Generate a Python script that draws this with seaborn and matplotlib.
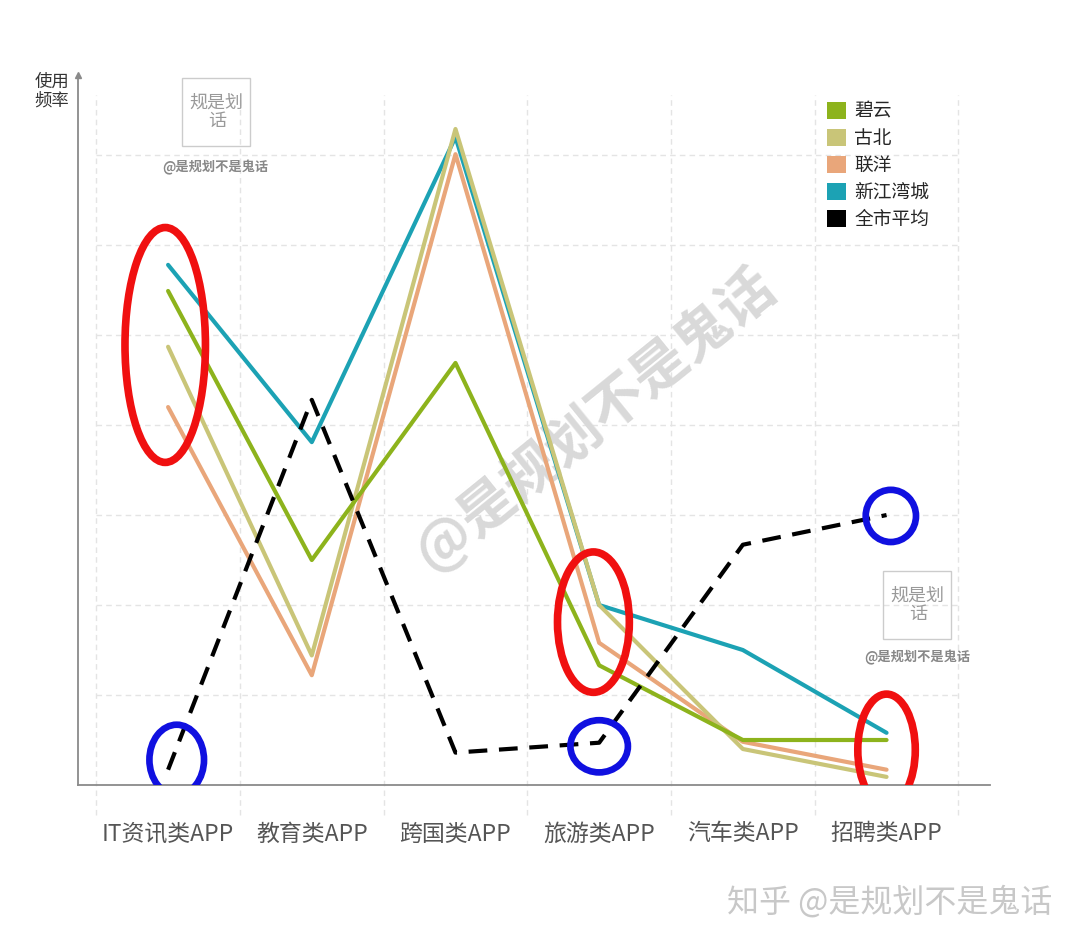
import pandas as pd
import matplotlib
matplotlib.use("Agg")
import matplotlib.pyplot as plt
import seaborn as sns
from matplotlib.patches import Ellipse, Patch, Rectangle

# 数据
categories = ["IT资讯类APP", "教育类APP", "跨国类APP", "旅游类APP", "汽车类APP", "招聘类APP"]
biyun = [5.49, 2.50, 4.69, 1.33, 0.50, 0.50]
gubei = [4.87, 1.44, 7.29, 2.00, 0.40, 0.09]
lianyang = [4.20, 1.22, 7.01, 1.58, 0.48, 0.17]
xinjiangwan = [5.78, 3.81, 7.20, 2.00, 1.50, 0.58]
city_avg = [0.17, 4.28, 0.36, 0.47, 2.67, 3.00]

series_names = ["碧云", "古北", "联洋", "新江湾城", "全市平均"]
series_values = [biyun, gubei, lianyang, xinjiangwan, city_avg]
colors = ["#8db31c", "#c9c578", "#e9a67a", "#1ca2b4", "#000000"]

# 标注圈 (类别序号, 数值, 宽, 高)
red_marks = [(-0.02, 4.89, 0.56, 2.61), (2.96, 1.81, 0.50, 1.56), (5.0, 0.39, 0.40, 1.24)]
blue_marks = [(0.06, 0.28, 0.38, 0.78), (3.0, 0.43, 0.40, 0.58), (5.03, 2.99, 0.35, 0.58)]

df = pd.DataFrame({
    "类别": categories * len(series_names),
    "频率": sum(series_values, []),
    "区域": [n for n in series_names for _ in categories],
})

sns.set_style("white")
plt.rcParams["font.family"] = ["Noto Sans CJK SC", "DejaVu Sans"]

fig = plt.figure(figsize=(10.8, 9.46), dpi=100)
ax = fig.add_axes([78 / 1080, 1 - 785 / 946, 912 / 1080, 710 / 946])

# 网格
grid_kw = dict(color="#e4e4e4", linestyles=(0, (4, 3)), linewidth=1.0, zorder=0, clip_on=False)
ax.hlines(range(1, 8), -0.5, 5.5, **grid_kw)
ax.vlines([i - 0.5 for i in range(7)], -0.33, 7.67, **grid_kw)

palette = dict(zip(series_names, colors))
draw_order = ["新江湾城", "联洋", "古北", "碧云", "全市平均"]
for name in draw_order:
    sub = df[df["区域"] == name]
    if name == "全市平均":
        sns.lineplot(data=sub, x="类别", y="频率", color=palette[name], ax=ax,
                     linewidth=3, sort=False, zorder=5)
        ax.lines[-1].set_dashes((4.5, 2.8))
    else:
        sns.lineplot(data=sub, x="类别", y="频率", color=palette[name], ax=ax,
                     linewidth=3, sort=False, zorder=4)

for x, y, w, h in red_marks:
    ax.add_patch(Ellipse((x, y), w, h, fill=False, edgecolor="#f01010", linewidth=5.5, zorder=6))
for x, y, w, h in blue_marks:
    ax.add_patch(Ellipse((x, y), w, h, fill=False, edgecolor="#1010e0", linewidth=4.8, zorder=6))

ax.set_xlim(-0.627, 5.72)
ax.set_ylim(0, 7.89)
ax.set_xlabel("")
ax.set_ylabel("")
ax.set_yticks([])
ax.set_xticks(range(len(categories)))
ax.set_xticklabels(categories, fontsize=16.5, color="#555555")
ax.tick_params(axis="x", length=0, pad=27)
for s in ["top", "right"]:
    ax.spines[s].set_visible(False)
for s in ["left", "bottom"]:
    ax.spines[s].set_color("#8a8a8a")
    ax.spines[s].set_linewidth(1.3)
ax.plot(0, 1, marker="^", color="#8a8a8a", markersize=4, transform=ax.transAxes, clip_on=False)

# 图例
handles = [Patch(facecolor=c, edgecolor="none") for c in colors]
fig.legend(handles, series_names, loc="upper left", bbox_to_anchor=(810 / 1080, 1 - 84 / 946),
           frameon=False, fontsize=13.5, handlelength=1.0, handleheight=1.0,
           handletextpad=0.45, labelspacing=0.32)

fig.text(52 / 1080, 1 - 91 / 946, "使用\n频率", ha="center", va="center", fontsize=12.5,
         color="#333333", linespacing=1.1)

# 水印
ax.text(2.97, 4.07, "@是规划不是鬼话", rotation=39, fontsize=40, fontweight="bold",
        color="#d9d9d9", ha="center", va="center", zorder=1)
for cx, cy, tx, ty in [(216, 112, 215, 167), (917, 605, 917, 657)]:
    fig.patches.append(Rectangle(((cx - 34) / 1080, 1 - (cy + 34) / 946), 68 / 1080, 68 / 946,
                                 transform=fig.transFigure, fill=False, edgecolor="#cccccc",
                                 linewidth=1.0))
    fig.text(cx / 1080, 1 - cy / 946, "规是划\n 话", ha="center", va="center", fontsize=13,
             color="#999999", linespacing=1.0)
    fig.text(tx / 1080, 1 - ty / 946, "@是规划不是鬼话", ha="center", va="center", fontsize=9.5,
             color="#888888", fontweight="bold", style="italic")

fig.text(1052 / 1080, 1 - 902 / 946, "知乎 @是规划不是鬼话", ha="right", va="center",
         fontsize=23, color="#c8c8c8")

fig.savefig("out.png", dpi=100)
